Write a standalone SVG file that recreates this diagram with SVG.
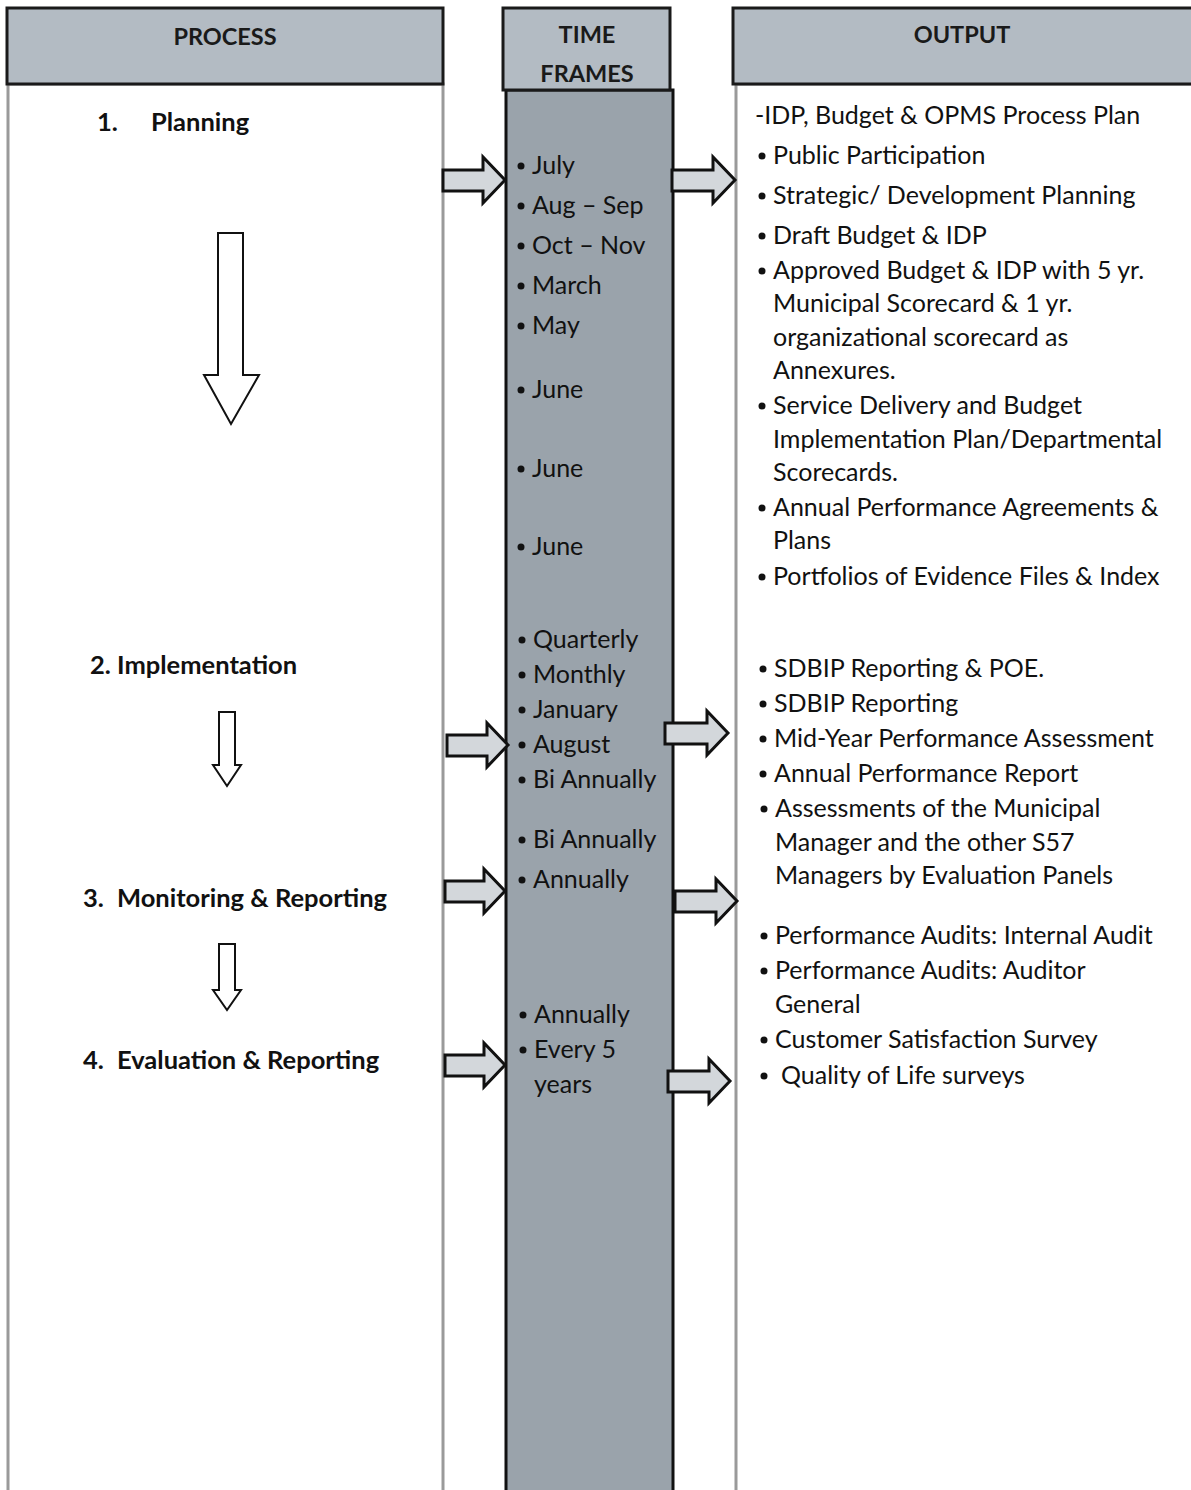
<svg xmlns="http://www.w3.org/2000/svg" width="1191" height="1490" viewBox="0 0 1191 1490">
  <style>
    .hdr { fill: #b3bbc3; stroke: #1a1a1a; stroke-width: 3; }
    .body { fill: #ffffff; stroke: #9a9a9a; stroke-width: 3; }
    .tbody { fill: #9aa3ab; stroke: #111; stroke-width: 3; }
    .ht { font-family: Lato, "Liberation Sans", sans-serif; font-weight: bold; font-size: 23.5px; fill: #1a1a1a; text-anchor: middle; }
    .pt { font-family: Lato, "Liberation Sans", sans-serif; font-weight: bold; font-size: 25.5px; fill: #111; }
    .t { font-family: Lato, "Liberation Sans", sans-serif; font-size: 25px; fill: #111; }
    .blk { fill: #d3d7db; stroke: #111; stroke-width: 3; stroke-linejoin: miter; }
    .down { fill: #fff; stroke: #111; stroke-width: 2; }
    .dot { fill: #111; }
  </style>

  <!-- PROCESS column -->
  <g id="process">
    <rect class="body" x="8" y="84" width="435" height="1410"/>
    <rect class="hdr" x="7" y="8" width="436" height="76"/>
    <text class="ht" x="225" y="45">PROCESS</text>
    <text class="pt" x="97" y="131">1.</text>
    <text class="pt" x="151" y="131">Planning</text>
    <text class="pt" x="90" y="674">2. Implementation</text>
    <text class="pt" x="83" y="907">3.</text>
    <text class="pt" x="117" y="907">Monitoring &amp; Reporting</text>
    <text class="pt" x="83" y="1069">4.</text>
    <text class="pt" x="117" y="1069">Evaluation &amp; Reporting</text>
  </g>

  <!-- TIME FRAMES column -->
  <g id="timeframes">
    <rect class="tbody" x="506" y="90" width="167" height="1404"/>
    <rect class="hdr" x="503" y="8" width="167" height="82"/>
    <text class="ht" x="587" y="43">TIME</text>
    <text class="ht" x="587" y="82">FRAMES</text>
    <g class="t">
      <text x="532" y="174">July</text>
      <text x="532" y="214">Aug – Sep</text>
      <text x="532" y="254">Oct – Nov</text>
      <text x="532" y="294">March</text>
      <text x="532" y="334">May</text>
      <text x="532" y="398">June</text>
      <text x="532" y="477">June</text>
      <text x="532" y="555">June</text>
      <text x="533" y="648">Quarterly</text>
      <text x="533" y="683">Monthly</text>
      <text x="533" y="718">January</text>
      <text x="533" y="753">August</text>
      <text x="533" y="788">Bi Annually</text>
      <text x="533" y="848">Bi Annually</text>
      <text x="533" y="888">Annually</text>
      <text x="534" y="1023">Annually</text>
      <text x="534" y="1058">Every 5</text>
      <text x="534" y="1093">years</text>
    </g>
    <g class="dot">
      <circle cx="521" cy="166" r="3.5"/>
      <circle cx="521" cy="206" r="3.5"/>
      <circle cx="521" cy="246" r="3.5"/>
      <circle cx="521" cy="286" r="3.5"/>
      <circle cx="521" cy="326" r="3.5"/>
      <circle cx="521" cy="390" r="3.5"/>
      <circle cx="521" cy="469" r="3.5"/>
      <circle cx="521" cy="547" r="3.5"/>
      <circle cx="522" cy="640" r="3.5"/>
      <circle cx="522" cy="675" r="3.5"/>
      <circle cx="522" cy="710" r="3.5"/>
      <circle cx="522" cy="745" r="3.5"/>
      <circle cx="522" cy="780" r="3.5"/>
      <circle cx="522" cy="840" r="3.5"/>
      <circle cx="522" cy="880" r="3.5"/>
      <circle cx="523" cy="1015" r="3.5"/>
      <circle cx="523" cy="1050" r="3.5"/>
    </g>
  </g>

  <!-- OUTPUT column -->
  <g id="output">
    <rect class="body" x="736" y="84" width="460" height="1410"/>
    <rect class="hdr" x="733" y="8" width="463" height="76"/>
    <text class="ht" x="962" y="43">OUTPUT</text>
    <g class="t">
      <text x="755" y="124">-IDP, Budget &amp; OPMS Process Plan</text>
      <text x="773" y="164">Public Participation</text>
      <text x="773" y="204">Strategic/ Development Planning</text>
      <text x="773" y="244">Draft Budget &amp; IDP</text>
      <text x="773" y="279">Approved Budget &amp; IDP with 5 yr.</text>
      <text x="773" y="312">Municipal Scorecard &amp; 1 yr.</text>
      <text x="773" y="346">organizational scorecard as</text>
      <text x="773" y="379">Annexures.</text>
      <text x="773" y="414">Service Delivery and Budget</text>
      <text x="773" y="448">Implementation Plan/Departmental</text>
      <text x="773" y="481">Scorecards.</text>
      <text x="773" y="516">Annual Performance Agreements &amp;</text>
      <text x="773" y="549">Plans</text>
      <text x="773" y="585">Portfolios of Evidence Files &amp; Index</text>
      <text x="774" y="677">SDBIP Reporting &amp; POE.</text>
      <text x="774" y="712">SDBIP Reporting</text>
      <text x="774" y="747">Mid-Year Performance Assessment</text>
      <text x="774" y="782">Annual Performance Report</text>
      <text x="775" y="817">Assessments of the Municipal</text>
      <text x="775" y="851">Manager and the other S57</text>
      <text x="775" y="884">Managers by Evaluation Panels</text>
      <text x="775" y="944">Performance Audits: Internal Audit</text>
      <text x="775" y="979">Performance Audits: Auditor</text>
      <text x="775" y="1013">General</text>
      <text x="775" y="1048">Customer Satisfaction Survey</text>
      <text x="781" y="1084">Quality of Life surveys</text>
    </g>
    <g class="dot">
      <circle cx="762" cy="156" r="3.5"/>
      <circle cx="762" cy="196" r="3.5"/>
      <circle cx="762" cy="236" r="3.5"/>
      <circle cx="762" cy="271" r="3.5"/>
      <circle cx="762" cy="406" r="3.5"/>
      <circle cx="762" cy="508" r="3.5"/>
      <circle cx="762" cy="577" r="3.5"/>
      <circle cx="763" cy="669" r="3.5"/>
      <circle cx="763" cy="704" r="3.5"/>
      <circle cx="763" cy="739" r="3.5"/>
      <circle cx="763" cy="774" r="3.5"/>
      <circle cx="764" cy="809" r="3.5"/>
      <circle cx="764" cy="936" r="3.5"/>
      <circle cx="764" cy="971" r="3.5"/>
      <circle cx="764" cy="1040" r="3.5"/>
      <circle cx="764" cy="1076" r="3.5"/>
    </g>
  </g>

  <!-- connectors: block arrows between columns and down arrows in the process column -->
  <g id="connectors">
    <path class="blk" d="M443,170 H483 V157 L505,180 L483,203 V191 H443 Z"/>
    <path class="blk" d="M672,170 H713 V157 L735,180 L713,203 V191 H672 Z"/>
    <path class="blk" d="M447,735 H487 V723 L508,745 L487,767 V756 H447 Z"/>
    <path class="blk" d="M665,723 H707 V711 L728,733 L707,755 V744 H665 Z"/>
    <path class="blk" d="M445,881 H484 V869 L505,891 L484,913 V902 H445 Z"/>
    <path class="blk" d="M675,891 H716 V879 L737,901 L716,923 V912 H675 Z"/>
    <path class="blk" d="M445,1055 H484 V1043 L505,1065 L484,1087 V1076 H445 Z"/>
    <path class="blk" d="M668,1071 H709 V1059 L730,1081 L709,1103 V1092 H668 Z"/>

    <path class="down" d="M218,233 H243 V375 H259 L231,424 L204,375 H218 Z"/>
    <path class="down" d="M219,712 H235 V765 H241 L227,786 L213,765 H219 Z"/>
    <path class="down" d="M219,944 H235 V990 H241 L227,1010 L213,990 H219 Z"/>
  </g>
</svg>
